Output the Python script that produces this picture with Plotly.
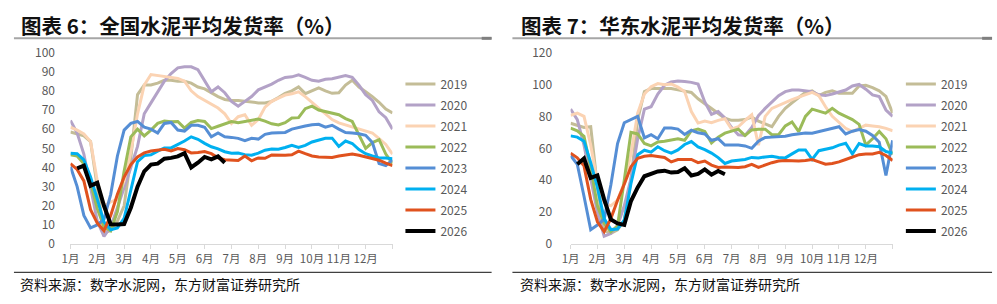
import plotly.graph_objects as go

W, H = 997, 304

years = ["2019", "2020", "2021", "2022", "2023", "2024", "2025", "2026"]
colors = ["#C4BD97", "#B3A2C7", "#FBD3B3", "#9BBB59", "#558ED5", "#00B0F0", "#E0521E", "#000000"]
widths = [3, 3, 3, 3, 3, 3, 3, 4]
month_labels = ["1月", "2月", "3月", "4月", "5月", "6月", "7月", "8月", "9月", "10月", "11月", "12月", ""]

# ---- 全国 (national), weekly-ish readings, 4 per month from Jan start to Dec end ----
nat_2019 = [58.5, 57.5, 56.5, 53.5, 31, 6, 7, 12, 20, 45, 78, 83, 83, 84, 85.5, 85.5, 85, 85, 84, 82,
            81, 79, 77, 75.5, 75, 75, 74.5, 74, 73.7, 73.7, 74.5, 76.5, 78.7, 80, 82, 78.5, 80, 81.5,
            80, 78.7, 79, 83, 85.5, 82, 79.5, 77, 74, 70.5, 68.5]
nat_2020 = [64.5, 58, 47, 30, 12, 4, 9, 19, 29, 40, 51, 68, 73.7, 79, 85, 89, 92, 92.6, 92.5, 91,
            85, 79.5, 82, 79, 74.5, 72, 74.5, 77, 80.5, 82, 83.5, 85.5, 87, 87.3, 88.3, 87, 85.5, 85,
            86, 86.3, 87, 88, 87, 83, 78, 75, 69, 66, 60]
nat_2021 = [61, 59.5, 57.5, 53.5, 33, 20, 22, 23.5, 33, 48, 68, 83, 88.5, 88, 87.7, 87, 86.5, 85, 80, 77,
            75, 73, 71, 68, 63, 66.5, 67.5, 62, 65, 71.5, 74.5, 76.2, 77.8, 78.5, 79.5, 77, 74, 71,
            68, 65, 63.3, 62.3, 61.3, 60.3, 59.4, 58, 55, 52, 47]
nat_2022 = [46.6, 46, 42, 32, 18.5, 9, 7, 17, 38, 56, 60, 56.5, 59.5, 63, 64.2, 63.8, 64, 60.5, 63.5, 64.5,
            64, 60.3, 61.5, 62.7, 64, 63.4, 64, 64.5, 65.3, 64.2, 62.8, 62.2, 63.4, 65.8, 66, 70.7, 72,
            70, 69.2, 68.3, 67.5, 65.5, 64, 57, 50, 53, 54.5, 47, 42]
nat_2023 = [40.5, 30, 15, 8.5, 10, 13, 26, 46, 59.5, 63, 64, 61, 60, 58, 63, 63.5, 59.5, 59, 62, 62,
            61, 56, 58, 56, 55.7, 55.2, 54, 55.2, 54.8, 57.3, 58, 58, 58.3, 60, 61, 61.6, 62.3, 62.5,
            61, 62, 60, 58.2, 58, 57.6, 56.8, 53, 42, 41, 44]
nat_2024 = [47.4, 47.2, 44, 35, 23.5, 11.5, 7.5, 8.5, 13.5, 29, 43, 46.2, 46.6, 48.5, 50.2, 50.2, 51.8, 53.8,
            56, 54.7, 52.6, 50.8, 49.7, 48.2, 47.4, 47.5, 46.7, 46.4, 47.5, 49, 49.6, 49.5, 50.4, 51.6,
            50.5, 51.5, 53.3, 54.2, 55.2, 55.3, 51, 53.8, 52.5, 49.3, 47.2, 46, 45, 45, 44.5]
nat_2025 = [42, 39, 33, 18, 11, 7, 15, 26, 35, 41.5, 45.5, 47.6, 48.6, 49.2, 49.5, 48.6, 49.9, 49.3, 47.6,
            47.8, 48.3, 47.2, 45, 44, 43.8, 43.6, 46, 43.5, 45, 44.8, 46.5, 46.3, 46.4, 46.6, 48.5, 47.2,
            46, 45.5, 45.2, 45.2, 46, 46.5, 47, 46.4, 45.5, 45, 43.8, 42.3, 41]
nat_2026 = [39.5, 40.9, 30.5, 32, 20, 10.3, 10.2, 10.5, 19, 30, 38, 41.5, 42, 44.6, 45, 45.8, 47.5, 40,
            42.5, 45.5, 44.2, 45.8, 42.5]

# ---- 华东 (East China) ----
ec_2019 = [75.7, 74.5, 73, 73.5, 36, 8.5, 6.7, 9, 15, 40, 78, 95.5, 97.4, 97.5, 97.6, 97.5, 96.6, 96, 95, 91,
           88, 85, 82, 78.8, 77.5, 77.5, 78, 79.5, 77, 75, 73.5, 80, 85, 88.5, 92, 95, 96, 93, 95, 96,
           94.5, 94.5, 94.5, 99, 99.5, 98, 96, 92.5, 82]
ec_2020 = [84.5, 78, 62, 40, 20, 5, 6.7, 11.5, 24, 41, 66, 84.5, 86, 94, 99.5, 101.5, 102.2, 101.8, 101.3,
           100.2, 89, 81.2, 83, 79, 73, 68.5, 68, 73, 80.5, 85, 89, 93, 95.5, 96.5, 96.5, 95.8, 95.5,
           93.5, 93, 94, 95.5, 96.5, 99, 100, 97, 93.4, 92.4, 84, 80]
ec_2021 = [80.6, 82, 80, 62, 38.5, 26, 24, 27.5, 38.5, 56.5, 82, 94, 98.5, 100.5, 99.8, 100.3, 98.3, 95.5,
           83, 75.8, 77, 76, 77.5, 78.5, 72, 73.5, 77.5, 81, 62, 80, 85, 87, 88.5, 90.5, 92, 93.5, 95,
           93, 86, 80, 76, 72.5, 70.5, 72.5, 74.5, 74, 73.5, 72.5, 71]
ec_2022 = [72.7, 71, 67.5, 48, 24, 13, 7.7, 11.5, 40, 70, 69, 63, 61.5, 64, 64.4, 65.2, 66, 65, 71, 72,
           70.5, 63.3, 67, 69.5, 71, 72, 68, 71.5, 72, 72, 68.5, 68.5, 74, 76.5, 70.5, 80, 84.5, 83, 82,
           85, 82, 80, 78, 75, 62, 66, 70.5, 66, 56]
ec_2023 = [55.5, 50, 30, 9, 12, 15.5, 37, 63, 76, 78, 80, 66.5, 68.5, 66, 72.7, 72.7, 72, 68.7, 71.3, 69.7,
           69, 65, 66, 62, 62, 62, 61.5, 60, 64.5, 66.8, 67, 67.2, 67.5, 68.5, 69, 69.6, 69.5, 70.5,
           71.5, 72.5, 73.5, 69, 70.7, 71.7, 70.7, 68, 63.8, 43, 65]
ec_2024 = [67.8, 67, 64.5, 51, 35.5, 16, 9.1, 9.5, 15, 38, 56, 58.8, 57.6, 61, 58.5, 57, 59, 62.4, 64.2,
           60.9, 59.2, 57, 54.2, 50.5, 52, 52.5, 53, 54.3, 54, 54.6, 55, 54.2, 54, 56.5, 59, 59, 53,
           58.5, 59.5, 60.3, 62, 63.2, 56.5, 63, 61.5, 61.5, 61, 58, 57]
ec_2025 = [57, 54, 49, 28, 14, 7.8, 16, 27.5, 37.5, 48.5, 53.8, 55, 55.5, 55, 54.3, 51.5, 53, 53, 53, 51,
           52, 49.5, 48, 48.3, 48.2, 48, 48.5, 50, 48, 49.5, 51, 52, 52.4, 52.2, 52, 52.4, 53, 51.5,
           50, 50.5, 51.5, 53, 54.5, 56, 56.4, 56.4, 57.5, 55.5, 52.4]
ec_2026 = [50, 53.6, 41.5, 43, 28, 15.5, 13, 12, 27, 35.5, 42.5, 44.3, 45.5, 46, 44.8, 45.2, 47.5, 43,
           44, 46.8, 43.5, 45.8, 43.8]

nat_series = [nat_2019, nat_2020, nat_2021, nat_2022, nat_2023, nat_2024, nat_2025, nat_2026]
ec_series = [ec_2019, ec_2020, ec_2021, ec_2022, ec_2023, ec_2024, ec_2025, ec_2026]

STEP = 0.25  # months per weekly sample


def xs_for(values, start):
    return [start + i * STEP for i in range(len(values))]


def px(x):
    return x / W


def py(y):
    return 1 - y / H


fig = go.Figure()

for k, (yr, col, wd) in enumerate(zip(years, colors, widths)):
    start = 0.25 if yr == "2026" else 0.0
    fig.add_trace(go.Scatter(x=xs_for(nat_series[k], start), y=nat_series[k], mode="lines", name=yr,
                             line=dict(color=col, width=wd), xaxis="x", yaxis="y",
                             legend="legend", legendgroup="a" + yr, hoverinfo="skip"))
for k, (yr, col, wd) in enumerate(zip(years, colors, widths)):
    start = 0.25 if yr == "2026" else 0.0
    fig.add_trace(go.Scatter(x=xs_for(ec_series[k], start), y=ec_series[k], mode="lines", name=yr,
                             line=dict(color=col, width=wd), xaxis="x2", yaxis="y2",
                             legend="legend2", legendgroup="b" + yr, hoverinfo="skip"))

FONT = "Noto Sans CJK SC"
GRAY = "#595959"
ydom = [py(248), py(45)]

xcommon = dict(range=[0, 12], tickvals=list(range(13)), ticktext=month_labels, showgrid=False,
               zeroline=False, showline=True, linecolor="#D9D9D9", linewidth=1, ticks="outside",
               ticklen=4, tickcolor="#D9D9D9", tickfont=dict(family=FONT, size=11.5, color=GRAY),
               fixedrange=True)
ycommon = dict(showgrid=False, zeroline=False, showline=False, ticks="outside",
               tickcolor="rgba(0,0,0,0)", tickfont=dict(family=FONT, size=12, color=GRAY), fixedrange=True)

legcommon = dict(font=dict(family=FONT, size=12, color=GRAY), bgcolor="rgba(0,0,0,0)",
                 traceorder="grouped", tracegroupgap=2, xanchor="left", yanchor="top",
                 itemclick=False, itemdoubleclick=False)

shapes = []
for x0, x1 in [(5, 487), (508, 992)]:
    shapes.append(dict(type="line", xref="paper", yref="paper", x0=px(x0), x1=px(x1), y0=py(30), y1=py(30),
                       line=dict(color="#A6A6A6", width=2)))
    shapes.append(dict(type="line", xref="paper", yref="paper", x0=px(x1 - 10), x1=px(x1), y0=py(30), y1=py(30),
                       line=dict(color="#7F7F7F", width=3)))
    shapes.append(dict(type="line", xref="paper", yref="paper", x0=px(x0), x1=px(x1), y0=py(278), y1=py(278),
                       line=dict(color="#404040", width=1.2)))

annotations = [
    dict(text="图表 6：全国水泥平均发货率（%）", x=px(10), y=py(16), xref="paper", yref="paper",
         xanchor="left", yanchor="middle", showarrow=False,
         font=dict(family=FONT, size=20.5, color="#111111", weight="bold")),
    dict(text="图表 7：华东水泥平均发货率（%）", x=px(515), y=py(16), xref="paper", yref="paper",
         xanchor="left", yanchor="middle", showarrow=False,
         font=dict(family=FONT, size=20.5, color="#111111", weight="bold")),
    dict(text="资料来源：数字水泥网，东方财富证券研究所", x=px(9), y=py(290), xref="paper", yref="paper",
         xanchor="left", yanchor="middle", showarrow=False, font=dict(family=FONT, size=14, color="#111111")),
    dict(text="资料来源：数字水泥网，东方财富证券研究所", x=px(514), y=py(290), xref="paper", yref="paper",
         xanchor="left", yanchor="middle", showarrow=False, font=dict(family=FONT, size=14, color="#111111")),
]

fig.update_layout(
    width=W, height=H, margin=dict(l=0, r=0, t=0, b=0), paper_bgcolor="white", plot_bgcolor="white",
    xaxis=dict(domain=[px(62), px(387)], anchor="y", **xcommon),
    yaxis=dict(domain=ydom, anchor="x", range=[0, 100], tickvals=list(range(0, 101, 10)), ticklen=12, **ycommon),
    xaxis2=dict(domain=[px(566.7), px(891.7)], anchor="y2", **xcommon),
    yaxis2=dict(domain=ydom, anchor="x2", range=[0, 120], tickvals=list(range(0, 121, 20)), ticklen=15, **ycommon),
    legend=dict(x=px(395), y=py(63), **legcommon),
    legend2=dict(x=px(900), y=py(63), **legcommon),
    shapes=shapes, annotations=annotations, showlegend=True,
)

fig.write_html("out.html", config={"displayModeBar": False, "staticPlot": True})
